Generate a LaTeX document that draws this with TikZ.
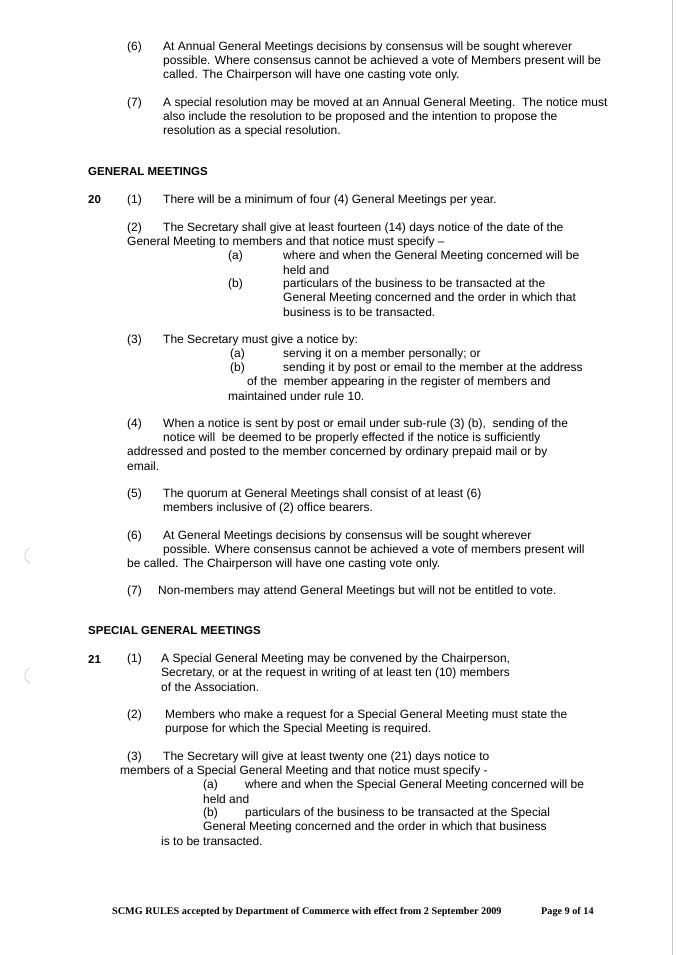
\documentclass[tikz,border=0pt]{standalone}
\usepackage{fontspec}
\setmainfont{Liberation Sans}
\newfontfamily\footfont{Liberation Serif}
\begin{document}
\begin{tikzpicture}[x=1pt,y=-1pt,every node/.style={anchor=west,inner sep=0pt,font=\fontsize{12}{14}\selectfont}]
\useasboundingbox[fill=white] (0,0) rectangle (675,955);
\draw[gray!40,line width=0.6pt] (672,0) -- (672,955);
\draw[gray!60] (30,563) arc (110:250:8);
\draw[gray!60] (30,683) arc (110:250:8);
\node (a1) at (127,47) {(6)};
\node (a2) at (163,47) {At Annual General Meetings decisions by consensus will be sought wherever};
\node (a3) at (163,61) {possible. Where consensus cannot be achieved a vote of Members present will be};
\node (a4) at (163,75) {called. The Chairperson will have one casting vote only.};
\node (b1) at (127,103) {(7)};
\node (b2) at (163,103) {A special resolution may be moved at an Annual General Meeting.\ \ The notice must};
\node (b3) at (163,117) {also include the resolution to be proposed and the intention to propose the};
\node (b4) at (163,131) {resolution as a special resolution.};
\node[font=\fontsize{11.5}{13}\selectfont\bfseries] (h1) at (88,172) {GENERAL MEETINGS};
\node[font=\fontsize{11.5}{13}\selectfont\bfseries] (n20) at (88,200) {20};
\node (c1) at (127,200) {(1)};
\node (c2) at (163,200) {There will be a minimum of four (4) General Meetings per year.};
\node (d1) at (127,228) {(2)};
\node (d2) at (163,228) {The Secretary shall give at least fourteen (14) days notice of the date of the};
\node (d3) at (127,242) {General Meeting to members and that notice must specify –};
\node (d4) at (228,256) {(a)};
\node (d5) at (283,256) {where and when the General Meeting concerned will be};
\node (d6) at (283,270) {held and};
\node (d7) at (228,284) {(b)};
\node (d8) at (283,284) {particulars of the business to be transacted at the};
\node (d9) at (283,298) {General Meeting concerned and the order in which that};
\node (d10) at (283,312) {business is to be transacted.};
\node (e1) at (127,340) {(3)};
\node (e2) at (163,340) {The Secretary must give a notice by:};
\node (e3) at (230,354) {(a)};
\node (e4) at (283,354) {serving it on a member personally; or};
\node (e5) at (230,368) {(b)};
\node (e6) at (283,368) {sending it by post or email to the member at the address};
\node (e7) at (247,382) {of the\ \ member appearing in the register of members and};
\node (e8) at (228,396) {maintained under rule 10.};
\node (f1) at (127,424) {(4)};
\node (f2) at (163,424) {When a notice is sent by post or email under sub-rule (3) (b),\ \ sending of the};
\node (f3) at (163,438) {notice will\ \ be deemed to be properly effected if the notice is sufficiently};
\node (f4) at (127,452) {addressed and posted to the member concerned by ordinary prepaid mail or by};
\node (f5) at (127,466) {email.};
\node (g1) at (127,494) {(5)};
\node (g2) at (163,494) {The quorum at General Meetings shall consist of at least (6)};
\node (g3) at (163,508) {members inclusive of (2) office bearers.};
\node (i1) at (127,536) {(6)};
\node (i2) at (163,536) {At General Meetings decisions by consensus will be sought wherever};
\node (i3) at (163,550) {possible. Where consensus cannot be achieved a vote of members present will};
\node (i4) at (127,564) {be called. The Chairperson will have one casting vote only.};
\node (j1) at (127,591) {(7)};
\node (j2) at (158,591) {Non-members may attend General Meetings but will not be entitled to vote.};
\node[font=\fontsize{11.5}{13}\selectfont\bfseries] (h2) at (88,631) {SPECIAL GENERAL MEETINGS};
\node[font=\fontsize{11.5}{13}\selectfont\bfseries] (n21) at (88,659) {21};
\node (k1) at (127,659) {(1)};
\node (k2) at (161,659) {A Special General Meeting may be convened by the Chairperson,};
\node (k3) at (161,673) {Secretary, or at the request in writing of at least ten (10) members};
\node (k4) at (161,687) {of the Association.};
\node (l1) at (127,715) {(2)};
\node (l2) at (165,715) {Members who make a request for a Special General Meeting must state the};
\node (l3) at (165,729) {purpose for which the Special Meeting is required.};
\node (m1) at (127,757) {(3)};
\node (m2) at (163,757) {The Secretary will give at least twenty one (21) days notice to};
\node (m3) at (120,771) {members of a Special General Meeting and that notice must specify -};
\node (m4) at (203,785) {(a)};
\node (m5) at (245,785) {where and when the Special General Meeting concerned will be};
\node (m6) at (203,799) {held and};
\node (m7) at (203,813) {(b)};
\node (m8) at (245,813) {particulars of the business to be transacted at the Special};
\node (m9) at (203,827) {General Meeting concerned and the order in which that business};
\node (m10) at (161,841) {is to be transacted.};
\node[font=\fontsize{10.2}{12}\footfont\bfseries] (ft1) at (112,912) {SCMG RULES accepted by Department of Commerce with effect from 2 September 2009};
\node[font=\fontsize{10.2}{12}\footfont\bfseries] (ft2) at (541,912) {Page 9 of 14};
\end{tikzpicture}
\end{document}
